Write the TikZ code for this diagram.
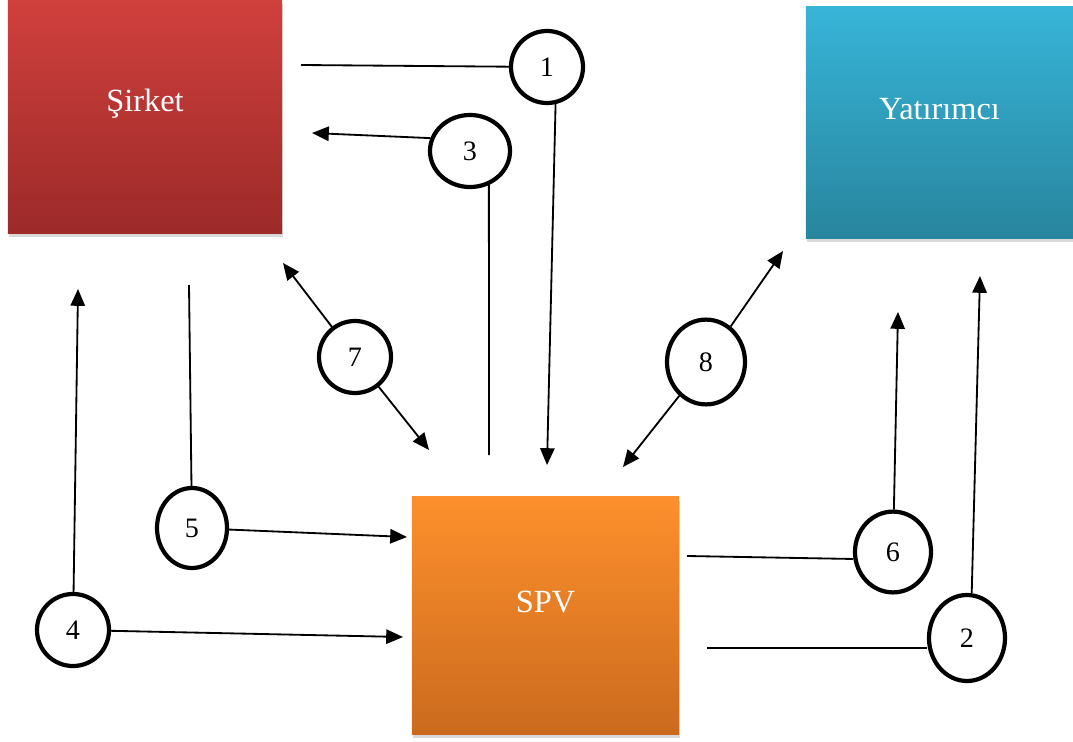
\documentclass[tikz,border=0pt]{standalone}
\usepackage{fontspec}
\setmainfont{Liberation Serif}
\usetikzlibrary{arrows.meta,shapes.geometric,shadows}

\definecolor{sirkettop}{HTML}{D0403D}
\definecolor{sirketbot}{HTML}{9C2A29}
\definecolor{yattop}{HTML}{37B4D8}
\definecolor{yatbot}{HTML}{28859E}
\definecolor{spvtop}{HTML}{FD902C}
\definecolor{spvbot}{HTML}{CB6A1E}

\begin{document}
\begin{tikzpicture}[x=0.025cm, y=-0.025cm,
    box/.style={rectangle, inner sep=0pt,
        drop shadow={shadow xshift=0.5pt, shadow yshift=-3pt, opacity=0.3}},
    boxtext/.style={text=white, font=\fontsize{23}{27}\selectfont, yshift=0.33cm},
    num/.style={ellipse, draw, line width=3pt, fill=white, inner sep=0pt,
        minimum width=1.8cm, minimum height=1.8cm, font=\fontsize{20}{24}\selectfont},
    wire/.style={line width=1.3pt},
    arr/.style={wire, -{Triangle[length=0.42cm, width=0.36cm]}}]

    \useasboundingbox (0,0) rectangle (1073,742);

    % the three parties
    \node[box, top color=sirkettop, bottom color=sirketbot,
        minimum width=6.85cm, minimum height=5.825cm,
        label={[boxtext]center:Şirket}] (sirket) at (145,116.5) {};
    \node[box, top color=yattop, bottom color=yatbot,
        minimum width=6.675cm, minimum height=5.775cm,
        label={[boxtext]center:Yatırımcı}] (yatirimci) at (939.5,122.5) {};
    \node[box, top color=spvtop, bottom color=spvbot,
        minimum width=6.675cm, minimum height=5.925cm,
        label={[boxtext]center:SPV}] (spv) at (545.5,615.5) {};

    % numbered steps
    \node[num] (n1) at (547,67) {1};
    \node[num, minimum width=2cm] (n3) at (470,151) {3};
    \node[num] (n7) at (355,357) {7};
    \node[num, minimum width=1.75cm, minimum height=2cm] (n5) at (192,528) {5};
    \node[num] (n4) at (73,630) {4};
    \node[num, minimum width=1.95cm, minimum height=2.12cm] (n8) at (706,362) {8};
    \node[num, minimum width=1.9cm, minimum height=2.02cm] (n6) at (893,552) {6};
    \node[num, minimum width=1.9cm, minimum height=2.15cm] (n2) at (967,638) {2};

    % loose ends of the links
    \coordinate (c1) at (301,65);
    \coordinate (t1) at (547,465);
    \coordinate (t3) at (312,133);
    \coordinate (c3) at (489,455);
    \coordinate (t7a) at (283,263);
    \coordinate (t7b) at (429,450);
    \coordinate (t8a) at (783,251);
    \coordinate (t8b) at (623,467);
    \coordinate (c5) at (189,285);
    \coordinate (t5) at (407,537);
    \coordinate (t4a) at (78,289);
    \coordinate (t4b) at (403,637);
    \coordinate (c6) at (687,556);
    \coordinate (t6) at (898,312);
    \coordinate (c2) at (707,648);
    \coordinate (t2) at (980,276);

    \draw[wire] (c1) -- (n1);
    \draw[arr] (n1.-77) -- (t1);
    \draw[arr] (n3.162) -- (t3);
    \draw[wire] (n3.-61) -- (c3);
    \draw[arr] (n7) -- (t7a);
    \draw[arr] (n7) -- (t7b);
    \draw[arr] (n8) -- (t8a);
    \draw[arr] (n8) -- (t8b);
    \draw[wire] (n5) -- (c5);
    \draw[arr] (n5) -- (t5);
    \draw[arr] (n4) -- (t4a);
    \draw[arr] (n4) -- (t4b);
    \draw[wire] (c6) -- (n6.190);
    \draw[arr] (n6) -- (t6);
    \draw[wire] (c2) -- (c2 -| n2.west);
    \draw[arr] (n2.84) -- (t2);
\end{tikzpicture}
\end{document}
